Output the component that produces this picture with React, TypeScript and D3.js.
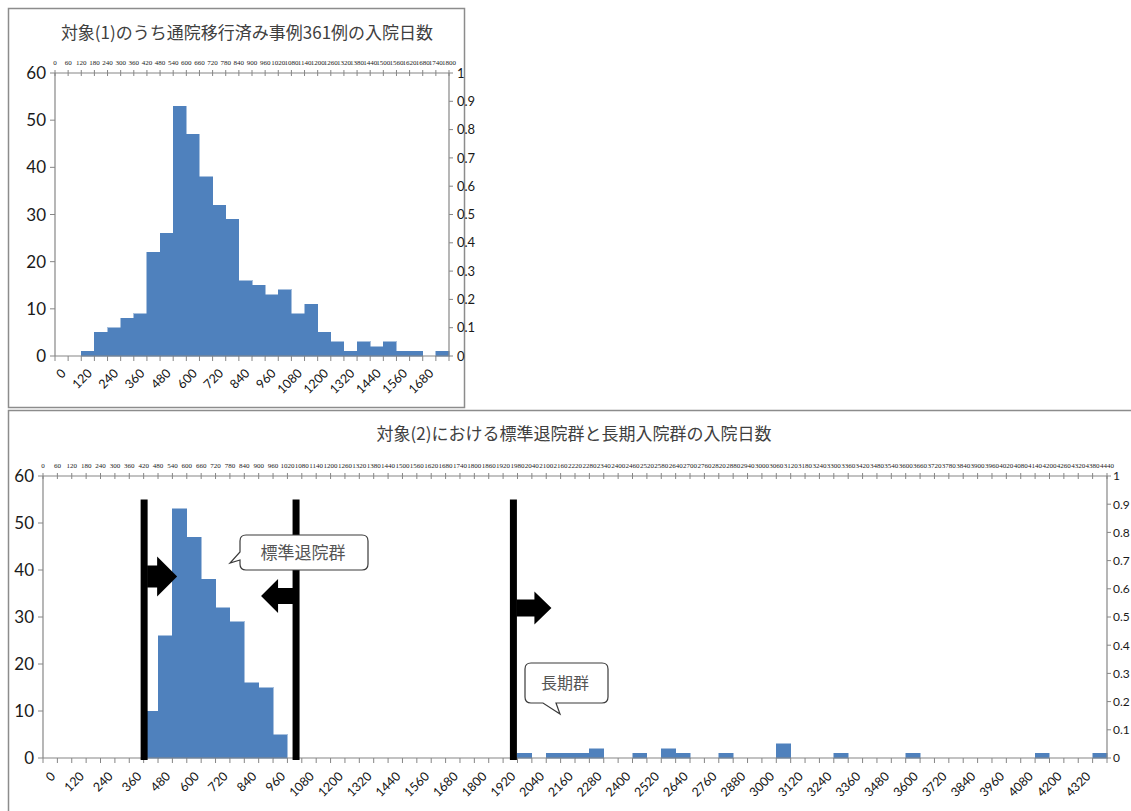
import React from 'react';
import * as d3 from 'd3';

// ---- data ----
const BIN_DAYS = 60;

// Chart 1: 361 discharged-to-outpatient cases, 60-day bins starting at these days
const chart1BinStarts = [0, 60, 120, 180, 240, 300, 360, 420, 480, 540, 600, 660, 720, 780, 840, 900, 960, 1020, 1080, 1140, 1200, 1260, 1320, 1380, 1440, 1500, 1560, 1620, 1680, 1740];
const chart1Counts = [0, 0, 1, 5, 6, 8, 9, 22, 26, 53, 47, 38, 32, 29, 16, 15, 13, 14, 9, 11, 5, 3, 1, 3, 2, 3, 1, 1, 0, 1];

// Chart 2: standard-discharge group and long-stay group
const standardBinStarts = [420, 480, 540, 600, 660, 720, 780, 840, 900, 960];
const standardCounts = [10, 26, 53, 47, 38, 32, 29, 16, 15, 5];
const longBinStarts = [1980, 2100, 2160, 2220, 2280, 2460, 2580, 2640, 2820, 3060, 3300, 3600, 4140, 4380];
const longCounts = [1, 1, 1, 1, 2, 1, 2, 1, 1, 3, 1, 1, 1, 1];

// cut-off markers (days)
const markerDays = [422, 1056, 1963];

// tick labels
const chart1BottomLabels = [0, 120, 240, 360, 480, 600, 720, 840, 960, 1080, 1200, 1320, 1440, 1560, 1680];
const chart2BottomLabels = d3.range(0, 4321, 120);
const chart1TopLabels = d3.range(0, 1801, 60);
const chart2TopLabels = d3.range(0, 4441, 60);
const leftTicks = [0, 10, 20, 30, 40, 50, 60];
const rightTicks = ['0', '0.1', '0.2', '0.3', '0.4', '0.5', '0.6', '0.7', '0.8', '0.9', '1'];

const title1 = '対象(1)のうち通院移行済み事例361例の入院日数';
const title2 = '対象(2)における標準退院群と長期入院群の入院日数';
const callout1 = '標準退院群';
const callout2 = '長期群';

const BLUE = '#4F81BD';
const AXIS = '#868686';
const NUM_FONT = 'Lato, "Open Sans", sans-serif';
const JP_FONT = '"Noto Sans CJK JP", sans-serif';

type Bar = { start: number; count: number };

function Axes(props: {
  x: d3.ScaleLinear<number, number>;
  y: d3.ScaleLinear<number, number>;
  yR: d3.ScaleLinear<number, number>;
  maxDay: number;
  bottomLabels: number[];
  topLabels: number[];
  labelDx: number;
  labelDy: number;
  rightGap: number;
  rightSize: number;
}) {
  const { x, y, yR, maxDay, bottomLabels, topLabels, labelDx, labelDy, rightGap, rightSize } = props;
  const [l, r] = x.range();
  const y0 = y(0);
  const yTop = y(60);
  const boundaries = d3.range(0, maxDay + 1, BIN_DAYS);
  return (
    <g>
      {/* bottom axis */}
      <line x1={l} x2={r} y1={y0} y2={y0} stroke={AXIS} strokeWidth={1.2} />
      {boundaries.map((d) => (
        <line key={'bt' + d} x1={x(d)} x2={x(d)} y1={y0} y2={y0 + 5} stroke={AXIS} strokeWidth={1} />
      ))}
      {bottomLabels.map((d) => {
        const cx = x(d + BIN_DAYS / 2) + labelDx;
        const cy = y0 + labelDy;
        return (
          <text key={'bl' + d} x={cx} y={cy} transform={`rotate(-45 ${cx} ${cy})`} textAnchor="end"
            fontFamily={NUM_FONT} fontSize={12.5} fill="#111">{d}</text>
        );
      })}
      {/* top axis */}
      <line x1={l} x2={r} y1={yTop} y2={yTop} stroke={AXIS} strokeWidth={1.2} />
      {boundaries.map((d) => (
        <line key={'tt' + d} x1={x(d)} x2={x(d)} y1={yTop - 3} y2={yTop + 3} stroke={AXIS} strokeWidth={1} />
      ))}
      {topLabels.map((d) => (
        <text key={'tl' + d} x={x(d)} y={yTop - 8} textAnchor="middle" fontFamily='"Liberation Serif", serif'
          fontSize={7} fill="#222">{d}</text>
      ))}
      {/* left axis */}
      <line x1={l} x2={l} y1={y0} y2={yTop} stroke={AXIS} strokeWidth={1.2} />
      {leftTicks.map((t) => (
        <g key={'lt' + t}>
          <line x1={l - 5} x2={l} y1={y(t)} y2={y(t)} stroke={AXIS} strokeWidth={1} />
          <text x={l - 9} y={y(t)} dy="0.36em" textAnchor="end" fontFamily={NUM_FONT} fontSize={17} fill="#1a1a1a">{t}</text>
        </g>
      ))}
      {/* right axis */}
      <line x1={r} x2={r} y1={y0} y2={yTop} stroke={AXIS} strokeWidth={1.2} />
      {rightTicks.map((t) => (
        <g key={'rt' + t}>
          <line x1={r} x2={r + 4} y1={yR(+t)} y2={yR(+t)} stroke={AXIS} strokeWidth={1} />
          <text x={r + rightGap} y={yR(+t)} dy="0.36em" textAnchor="start" fontFamily={NUM_FONT} fontSize={rightSize} fill="#1a1a1a">{t}</text>
        </g>
      ))}
    </g>
  );
}

function Bars(props: { bars: Bar[]; x: d3.ScaleLinear<number, number>; y: d3.ScaleLinear<number, number> }) {
  const { bars, x, y } = props;
  return (
    <g>
      {bars.filter((b) => b.count > 0).map((b) => (
        <rect key={b.start} x={x(b.start)} width={x(b.start + BIN_DAYS) - x(b.start)} y={y(b.count)}
          height={y(0) - y(b.count)} fill={BLUE} stroke={BLUE} strokeWidth={0.5} shapeRendering="crispEdges" />
      ))}
    </g>
  );
}

function blockArrow(xBase: number, cy: number, dir: 1 | -1, shaftLen: number, headLen: number, shaftH: number, headH: number) {
  const xs = xBase + dir * shaftLen;
  const xt = xs + dir * headLen;
  const pts: [number, number][] = [
    [xBase, cy - shaftH / 2], [xs, cy - shaftH / 2], [xs, cy - headH / 2], [xt, cy],
    [xs, cy + headH / 2], [xs, cy + shaftH / 2], [xBase, cy + shaftH / 2],
  ];
  return pts.map((p) => p.join(',')).join(' ');
}

export default function App() {
  // chart 1 scales
  const x1 = d3.scaleLinear().domain([0, 1800]).range([55, 449]);
  const y1 = d3.scaleLinear().domain([0, 60]).range([356, 73]);
  const y1R = d3.scaleLinear().domain([0, 1]).range([356, 73]);
  const bars1: Bar[] = chart1BinStarts.map((s, i) => ({ start: s, count: chart1Counts[i] }));

  // chart 2 scales
  const x2 = d3.scaleLinear().domain([0, 4440]).range([43, 1107]);
  const y2 = d3.scaleLinear().domain([0, 60]).range([758, 476]);
  const y2R = d3.scaleLinear().domain([0, 1]).range([758, 476]);
  const bars2: Bar[] = [
    ...standardBinStarts.map((s, i) => ({ start: s, count: standardCounts[i] })),
    ...longBinStarts.map((s, i) => ({ start: s, count: longCounts[i] })),
  ];

  const mx = markerDays.map((d) => x2(d));
  const lineTop = y2(55);
  const lineBottom = y2(0) + 2;

  return (
    <svg width={1131} height={811} style={{ position: 'absolute', left: 0, top: 0, display: 'block', background: '#fff' }}>
      <rect x={0} y={0} width={1131} height={811} fill="#fff" />
      {/* frames */}
      <rect x={8.5} y={8.5} width={456} height={399} fill="#fff" stroke="#8c8c8c" strokeWidth={1.5} />
      <rect x={8.5} y={410.5} width={1140} height={420} fill="#fff" stroke="#8c8c8c" strokeWidth={1.5} />

      {/* chart 1 */}
      <text x={247} y={39} textAnchor="middle" fontFamily={JP_FONT} fontSize={17} fill="#404040">{title1}</text>
      <Bars bars={bars1} x={x1} y={y1} />
      <Axes x={x1} y={y1} yR={y1R} maxDay={1800} bottomLabels={chart1BottomLabels} topLabels={chart1TopLabels}
        labelDx={5} labelDy={18} rightGap={8} rightSize={13} />

      {/* chart 2 */}
      <text x={574} y={440} textAnchor="middle" fontFamily={JP_FONT} fontSize={17} fill="#404040">{title2}</text>
      <Bars bars={bars2} x={x2} y={y2} />
      <Axes x={x2} y={y2} yR={y2R} maxDay={4440} bottomLabels={chart2BottomLabels} topLabels={chart2TopLabels}
        labelDx={6} labelDy={19} rightGap={6} rightSize={12} />

      {/* marker lines */}
      {mx.map((m, i) => (
        <line key={'m' + i} x1={m} x2={m} y1={lineTop} y2={lineBottom} stroke="#000" strokeWidth={7} />
      ))}
      {/* block arrows */}
      <polygon points={blockArrow(mx[0] + 3, 576.5, 1, 10, 20, 22, 40)} fill="#000" />
      <polygon points={blockArrow(mx[1] - 3, 596, -1, 15, 17, 16, 34)} fill="#000" />
      <polygon points={blockArrow(mx[2] + 3, 608, 1, 18, 17, 17, 33)} fill="#000" />

      {/* callouts */}
      <path d="M246,535 H362 Q368,535 368,541 V564 Q368,570 362,570 H246 Q240,570 240,564 V560 L230,563 L240,552 V541 Q240,535 246,535 Z"
        fill="#fff" stroke="#3a3a3a" strokeWidth={1.2} />
      <text x={303} y={553} dy="0.36em" textAnchor="middle" fontFamily={JP_FONT} fontSize={17} fill="#555">{callout1}</text>
      <path d="M531,663 H602 Q608,663 608,669 V697 Q608,703 602,703 H556 L560,714 L543,703 H531 Q525,703 525,697 V669 Q525,663 531,663 Z"
        fill="#fff" stroke="#3a3a3a" strokeWidth={1.2} />
      <text x={565} y={683} dy="0.36em" textAnchor="middle" fontFamily={JP_FONT} fontSize={16} fill="#555">{callout2}</text>
    </svg>
  );
}
